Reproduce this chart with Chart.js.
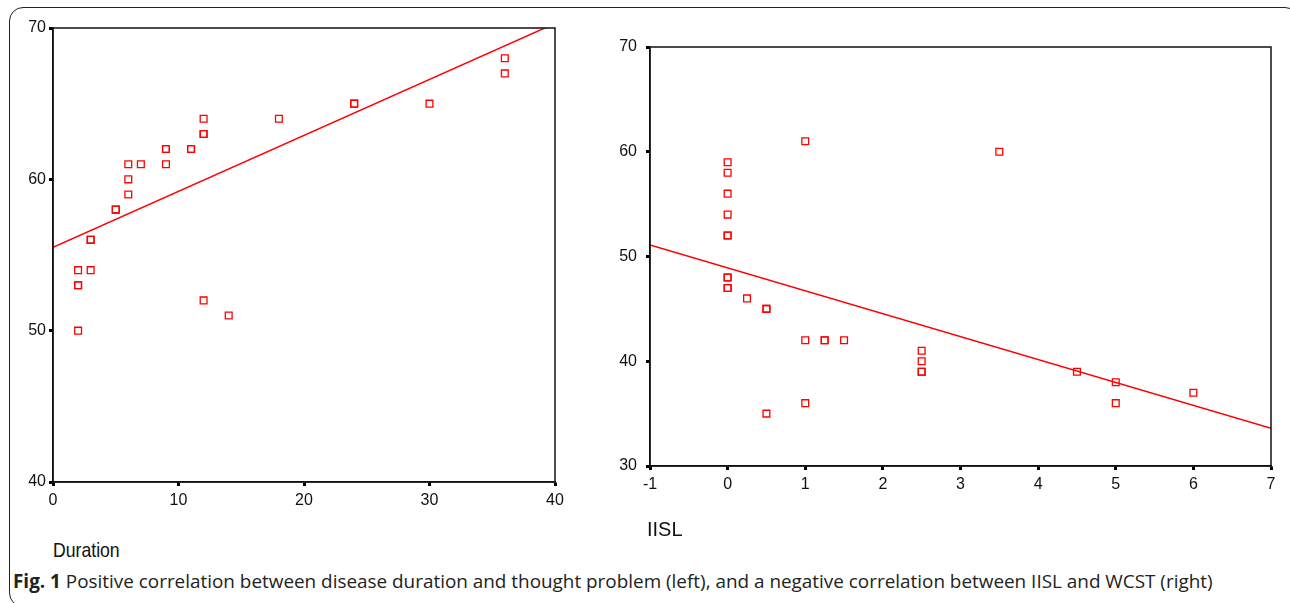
<!DOCTYPE html>
<html>
<head>
<meta charset="utf-8">
<script src="https://cdn.jsdelivr.net/npm/chart.js@4"></script>
<style>
  body { margin: 0; background: #fff; width: 1290px; height: 603px; overflow: hidden; position: relative; }
  .frame { position: absolute; left: 9px; top: 7px; width: 1290px; height: 600px; border: 1.5px solid #222; border-radius: 14px; box-sizing: border-box; }
  .box { position: absolute; top: 0; }
  .lbl { position: absolute; color: #111; line-height: 1; font-family: 'Liberation Sans', Arial, sans-serif; }
  #dur { left: 53px; top: 539px; font-size: 21px; transform: scaleX(0.84); transform-origin: left top; }
  #cap { position: absolute; left: 13px; top: 568px; font-family: "Open Sans", sans-serif; font-size: 18.9px; color: #222; white-space: nowrap; }
</style>
</head>
<body>
<div class="frame"></div>
<div class="box" style="left:0;width:580px;height:520px"><canvas id="chart_left"></canvas></div>
<div class="box" style="left:580px;width:710px;height:520px"><canvas id="chart_right"></canvas></div>
<div class="lbl" id="dur">Duration</div>
<div class="lbl" style="left:647px;top:519px;font-size:20px">IISL</div>
<div id="cap"><b>Fig. 1</b> Positive correlation between disease duration and thought problem (left), and a negative correlation between IISL and WCST (right)</div>
<script>
// left panel: disease duration vs thought problem
const duration = [2, 3, 2, 2, 2, 3, 3, 5, 5, 6, 6, 6, 7, 9, 9, 9, 11, 11, 12, 12, 12, 12, 14, 18, 24, 24, 30, 36, 36]
const thought  = [54, 54, 53, 53, 50, 56, 56, 58, 58, 61, 60, 59, 61, 62, 62, 61, 62, 62, 64, 63, 63, 52, 51, 64, 65, 65, 65, 68, 67]
const fitLeftX = [0, 40]
const fitLeftY = [55.5, 70.3]

// right panel: IISL vs WCST
const iisl = [0, 0, 0, 0, 0, 0, 0, 0, 0, 0, 0.25, 0.5, 0.5, 0.5, 1, 1, 1, 1.25, 1.25, 1.5, 2.5, 2.5, 2.5, 2.5, 3.5, 4.5, 5, 5, 6]
const wcst = [59, 58, 56, 54, 52, 52, 48, 48, 47, 47, 46, 45, 45, 35, 61, 42, 36, 42, 42, 42, 41, 40, 39, 39, 60, 39, 38, 36, 37]
const fitRightX = [-1, 7]
const fitRightY = [51.1, 33.6]

const toPoints = (xs, ys) => xs.map((x, i) => ({ x: x, y: ys[i] }))

const boxPlugin = {
  id: 'box',
  afterDraw: (chart) => {
    const a = chart.chartArea
    const ctx = chart.ctx
    ctx.save()
    ctx.strokeStyle = '#111'
    ctx.lineWidth = 1.5
    ctx.strokeRect(a.left, a.top, a.right - a.left, a.bottom - a.top)
    ctx.restore()
  }
}

const makeChart = (id, cfg) => {
  new Chart(document.getElementById(id), {
    type: 'scatter',
    data: {
      datasets: [
        {
          data: toPoints(cfg.xs, cfg.ys),
          pointStyle: 'rect',
          pointRadius: 4.8,
          pointHoverRadius: 4.8,
          borderColor: '#ff0000',
          backgroundColor: 'rgba(0,0,0,0)',
          pointBorderWidth: 1.3
        },
        {
          type: 'line',
          data: toPoints(cfg.fitX, cfg.fitY),
          borderColor: '#ff0000',
          borderWidth: 1.5,
          pointRadius: 0,
          fill: false
        }
      ]
    },
    options: {
      responsive: true,
      maintainAspectRatio: false,
      animation: false,
      layout: { padding: { top: cfg.padTop, right: cfg.padRight } },
      plugins: { legend: { display: false }, tooltip: { enabled: false } },
      scales: {
        x: {
          type: 'linear',
          min: cfg.xMin, max: cfg.xMax,
          afterFit: (s) => { s.height = cfg.xHeight },
          ticks: { stepSize: cfg.xStep, color: '#111', padding: cfg.xPad, font: cfg.font },
          grid: { drawOnChartArea: false, color: '#000', tickLength: 4, tickWidth: 3 },
          border: { color: '#111', width: 1.5 }
        },
        y: {
          min: cfg.yMin, max: cfg.yMax,
          afterFit: (s) => { s.width = cfg.yWidth },
          ticks: { stepSize: 10, color: '#111', padding: cfg.yPad, font: cfg.font },
          grid: { drawOnChartArea: false, color: '#000', tickLength: 4, tickWidth: 3 },
          border: { color: '#111', width: 1.5 }
        }
      }
    },
    plugins: [boxPlugin]
  })
}

makeChart('chart_left', {
  xs: duration, ys: thought, fitX: fitLeftX, fitY: fitLeftY,
  xMin: 0, xMax: 40, xStep: 10, yMin: 40, yMax: 70,
  padTop: 28, padRight: 25, xHeight: 38, yWidth: 53, xPad: 5, yPad: 3,
  font: { family: "'Liberation Sans', Arial, sans-serif", size: 16 }
})

makeChart('chart_right', {
  xs: iisl, ys: wcst, fitX: fitRightX, fitY: fitRightY,
  xMin: -1, xMax: 7, xStep: 1, yMin: 30, yMax: 70,
  padTop: 47, padRight: 19, xHeight: 54, yWidth: 70, xPad: 5, yPad: 9,
  font: { family: "'Liberation Sans', Arial, sans-serif", size: 16 }
})
</script>
</body>
</html>
